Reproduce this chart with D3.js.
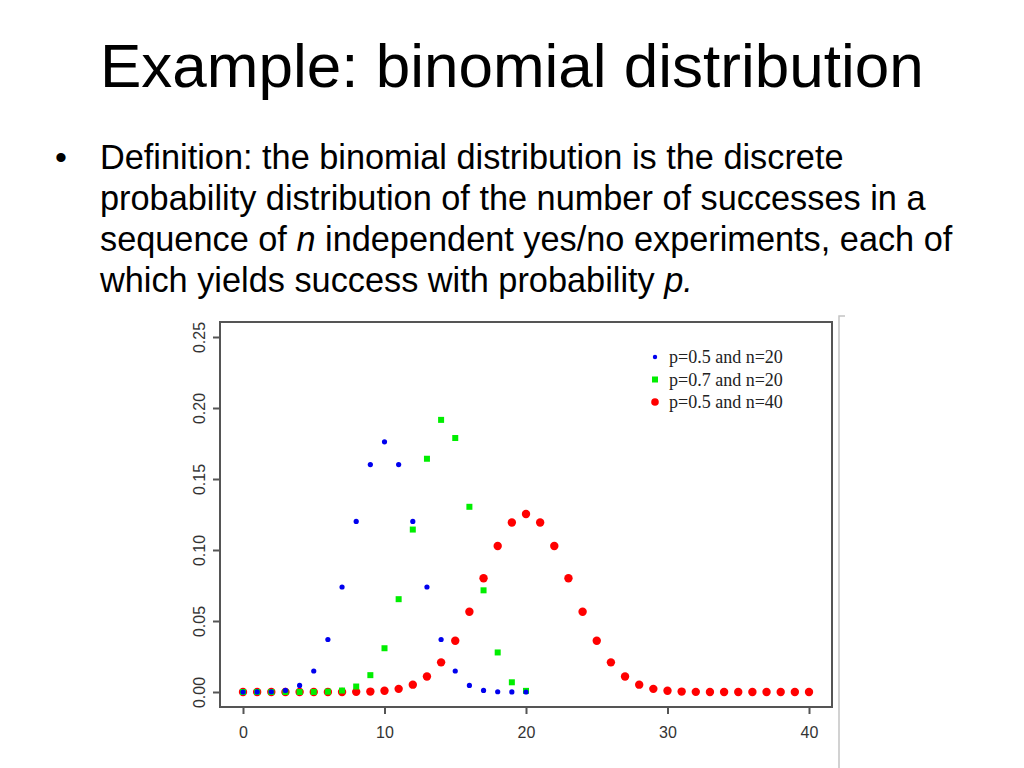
<!DOCTYPE html>
<html>
<head>
<meta charset="utf-8">
<script src="https://cdn.jsdelivr.net/npm/d3@7"></script>
<style>
  body { margin: 0; background: #fff; }
  svg { display: block; }
</style>
</head>
<body>
<script>
// values (probability mass at k successes)
var k20 = d3.range(0, 21)
var k40 = d3.range(0, 41)
var p05n20 = [0.000001, 0.000019, 0.000181, 0.001087, 0.004621, 0.014786, 0.036964, 0.073929, 0.120134, 0.160179,
  0.176197, 0.160179, 0.120134, 0.073929, 0.036964, 0.014786, 0.004621, 0.001087, 0.000181, 0.000019, 0.000001]
var p07n20 = [0, 0, 0, 0, 0.000005, 0.000037, 0.000218, 0.001018, 0.003859, 0.011860,
  0.030817, 0.065370, 0.114397, 0.164262, 0.191639, 0.178863, 0.130421, 0.071604, 0.027846, 0.006839, 0.000798]
var p05n40 = [0, 0, 0, 0, 0, 0, 0.000003, 0.000017, 0.000091, 0.000292,
  0.000846, 0.002203, 0.005161, 0.010921, 0.020880, 0.036108, 0.056518, 0.080096, 0.102780, 0.119402,
  0.125371, 0.119402, 0.102780, 0.080096, 0.056518, 0.036108, 0.020880, 0.010921, 0.005161, 0.002203,
  0.000846, 0.000292, 0.000091, 0.000017, 0.000003, 0, 0, 0, 0, 0, 0]
var xTicks = [0, 10, 20, 30, 40]
var yTicks = [0, 0.05, 0.10, 0.15, 0.20, 0.25]
var legendLabels = ['p=0.5 and n=20', 'p=0.7 and n=20', 'p=0.5 and n=40']

var svg = d3.select('body').append('svg')
  .attr('width', 1024).attr('height', 768)

// slide text
svg.append('text')
  .attr('x', 100).attr('y', 87)
  .style('font-family', 'Liberation Sans, Arial, sans-serif')
  .style('font-size', '62px')
  .text('Example: binomial distribution')

var lines = [
  [['Definition: the binomial distribution is the discrete', false]],
  [['probability distribution of the number of successes in a', false]],
  [['sequence of ', false], ['n', true], [' independent yes/no experiments, each of', false]],
  [['which yields success with probability ', false], ['p.', true]]
]
svg.append('text')
  .attr('x', 55).attr('y', 169)
  .style('font-family', 'Liberation Sans, Arial, sans-serif')
  .style('font-size', '34px')
  .text('\u2022')
lines.forEach(function(parts, i){
  var t = svg.append('text')
    .attr('x', 100).attr('y', 169 + i * 41)
    .style('font-family', 'Liberation Sans, Arial, sans-serif')
    .style('font-size', '34.3px')
    .attr('xml:space', 'preserve')
  parts.forEach(function(p){
    t.append('tspan').style('font-style', p[1] ? 'italic' : 'normal').text(p[0])
  })
})

// chart
var x = d3.scaleLinear().domain([0, 40]).range([243, 809])
var y = d3.scaleLinear().domain([0, 0.25]).range([692, 337])
var box = { left: 220, top: 322, right: 832, bottom: 707 }

// faint crop edge on the right of the pasted figure
svg.append('path')
  .attr('d', 'M845,316H839V768')
  .attr('fill', 'none').attr('stroke', '#c4c4c4').attr('stroke-width', 1.5)

svg.append('rect')
  .attr('x', box.left).attr('y', box.top)
  .attr('width', box.right - box.left).attr('height', box.bottom - box.top)
  .attr('fill', '#fff').attr('stroke', '#555').attr('stroke-width', 2)

var xAxis = svg.append('g')
  .attr('transform', 'translate(0,' + box.bottom + ')')
  .call(d3.axisBottom(x).tickValues(xTicks).tickSize(7).tickSizeOuter(0))
xAxis.select('.domain').remove()
xAxis.selectAll('line').attr('stroke', '#555').attr('stroke-width', 2)
xAxis.selectAll('text')
  .attr('dy', null).attr('y', 31)
  .style('font-family', 'Liberation Sans, Arial, sans-serif')
  .style('font-size', '16px').attr('fill', '#333')

var yAxis = svg.append('g')
  .attr('transform', 'translate(' + box.left + ',0)')
  .call(d3.axisLeft(y).tickValues(yTicks).tickSize(7).tickFormat(d3.format('.2f')))
yAxis.select('.domain').remove()
yAxis.selectAll('line').attr('stroke', '#555').attr('stroke-width', 2)
yAxis.selectAll('text')
  .attr('x', null)
  .attr('text-anchor', 'middle')
  .attr('transform', 'translate(-21,0) rotate(-90)')
  .attr('dy', '0.36em')
  .style('font-family', 'Liberation Sans, Arial, sans-serif')
  .style('font-size', '16px').attr('fill', '#333')

// red first, then green, then blue on top
svg.append('g').selectAll('circle')
  .data(k40).join('circle')
  .attr('cx', function(d){ return x(d) })
  .attr('cy', function(d){ return y(p05n40[d]) })
  .attr('r', 4.2).attr('fill', '#ff0000')

svg.append('g').selectAll('rect')
  .data(k20).join('rect')
  .attr('x', function(d){ return x(d) - 3 })
  .attr('y', function(d){ return y(p07n20[d]) - 3 })
  .attr('width', 6).attr('height', 6).attr('fill', '#00ee00')

svg.append('g').selectAll('circle')
  .data(k20).join('circle')
  .attr('cx', function(d){ return x(d) })
  .attr('cy', function(d){ return y(p05n20[d]) })
  .attr('r', 2.6).attr('fill', '#0000ee')

// legend
var lg = svg.append('g')
legendLabels.forEach(function(label, i){
  var cy = 357 + i * 22.5
  if (i === 0) lg.append('circle').attr('cx', 655).attr('cy', cy).attr('r', 2.2).attr('fill', '#0000ee')
  if (i === 1) lg.append('rect').attr('x', 652).attr('y', cy - 3).attr('width', 6).attr('height', 6).attr('fill', '#00ee00')
  if (i === 2) lg.append('circle').attr('cx', 655).attr('cy', cy).attr('r', 3.8).attr('fill', '#ff0000')
  lg.append('text')
    .attr('x', 669).attr('y', cy + 6)
    .style('font-family', 'Liberation Serif, Times New Roman, serif')
    .style('font-size', '18px').attr('fill', '#222')
    .text(label)
})
</script>
</body>
</html>
